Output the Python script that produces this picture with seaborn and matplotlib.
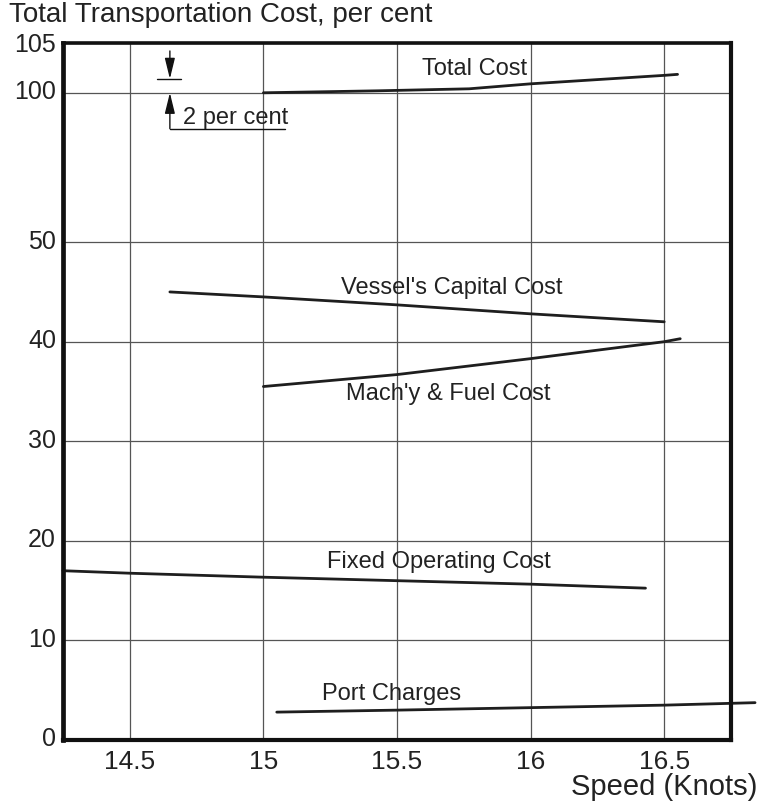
import numpy as np
import pandas as pd
import matplotlib
matplotlib.use('Agg')
import matplotlib.pyplot as plt
from matplotlib.transforms import ScaledTranslation
import seaborn as sns

# speeds (knots) and cost shares (per cent)
total_x = [15.0, 15.43, 15.77, 16.0, 16.5, 16.55]
total_y = [100.0, 100.2, 100.4, 100.9, 101.75, 101.85]

capital_x = [14.65, 15.0, 15.5, 16.0, 16.5]
capital_y = [45.0, 44.5, 43.7, 42.8, 42.0]

fuel_x = [15.0, 15.5, 16.0, 16.5, 16.56]
fuel_y = [35.5, 36.7, 38.3, 40.0, 40.3]

fixed_x = [14.25, 14.5, 15.0, 15.5, 16.0, 16.43]
fixed_y = [17.0, 16.75, 16.35, 16.0, 15.65, 15.25]

port_x = [15.05, 15.5, 16.0, 16.5, 16.84]
port_y = [2.8, 3.0, 3.25, 3.5, 3.75]

x_ticks = [14.5, 15, 15.5, 16, 16.5]
x_tick_labels = ['14.5', '15', '15.5', '16', '16.5']
y_ticks = [0, 10, 20, 30, 40, 50, 100, 105]


# broken axis: 50..100 squeezed to 30 % height
def fwd(y):
    y = np.asarray(y, dtype=float)
    return np.where(y <= 50, y, np.where(y >= 100, y - 35, 50 + (y - 50) * 0.3))


def inv(t):
    t = np.asarray(t, dtype=float)
    return np.where(t <= 50, t, np.where(t >= 65, t + 35, 50 + (t - 50) / 0.3))


sns.set_style('white')
plt.rcParams['font.family'] = ['Liberation Sans', 'DejaVu Sans']

fig = plt.figure(figsize=(7.6, 8.02), dpi=100)
ax = fig.add_axes([63 / 760, 62 / 802, 668 / 760, 697 / 802])
ax.set_yscale('function', functions=(fwd, inv))

line_color = '#1e1e1e'
text_color = '#222222'
series = [
    (total_x, total_y),
    (capital_x, capital_y),
    (fuel_x, fuel_y),
    (fixed_x, fixed_y),
    (port_x, port_y),
]
for xs, ys in series:
    df = pd.DataFrame({'speed': xs, 'cost': ys})
    sns.lineplot(data=df, x='speed', y='cost', ax=ax, color=line_color,
                 linewidth=2.0, clip_on=False)

ax.set_xlim(14.25, 16.75)
ax.set_ylim(0, 105)
ax.set_xticks(x_ticks)
ax.set_xticklabels(x_tick_labels)
ax.set_yticks(y_ticks)
ax.set_yticklabels([str(v) for v in y_ticks])
ax.tick_params(axis='both', length=0, colors=text_color)
ax.tick_params(axis='x', labelsize=19, pad=7)
ax.tick_params(axis='y', labelsize=18, pad=5)
ax.set_xlabel('')
ax.set_ylabel('')

# y labels sit a little above their lines in the original (not the top one,
# which would run into the title)
lift = ScaledTranslation(0, 3 / 100, fig.dpi_scale_trans)
for lab in ax.get_yticklabels()[:-1]:
    lab.set_transform(lab.get_transform() + lift)

ax.grid(True, color='#555555', linewidth=0.9)
for side, lw in [('left', 3.4), ('bottom', 3.0), ('right', 3.0), ('top', 2.6)]:
    ax.spines[side].set_visible(True)
    ax.spines[side].set_color('#111111')
    ax.spines[side].set_linewidth(lw)

# curve labels
labels = [
    ('Total Cost', 15.79, 102.35),
    ("Vessel's Capital Cost", 15.705, 45.35),
    ("Mach'y & Fuel Cost", 15.69, 34.75),
    ('Fixed Operating Cost', 15.655, 17.85),
    ('Port Charges', 15.48, 4.65),
]
for txt, lx, ly in labels:
    ax.text(lx, ly, txt, ha='center', va='center', fontsize=17, color=text_color)

# "2 per cent" marker
mark_x = 14.65
arrow = dict(arrowstyle='-|>,head_length=0.9,head_width=0.22', color='#111111',
             lw=1.0, mutation_scale=14, shrinkA=0, shrinkB=0)
ax.annotate('', xy=(mark_x, 101.4), xytext=(mark_x, 104.2), arrowprops=arrow)
ax.annotate('', xy=(mark_x, 100.0), xytext=(mark_x, 88.0), arrowprops=arrow)
ax.plot([14.60, 14.69], [101.4, 101.4], color='#111111', lw=1.0)
ax.plot([mark_x, 15.08], [88.0, 88.0], color='#111111', lw=1.0)
ax.text(14.70, 91.7, '2 per cent', ha='left', va='center', fontsize=17, color=text_color)

fig.text(9 / 760, 1 - 22 / 802, 'Total Transportation Cost, per cent',
         ha='left', va='baseline', fontsize=20, color=text_color)
fig.text(757 / 760, 1 - 787 / 802, 'Speed (Knots)',
         ha='right', va='center', fontsize=21, color=text_color)

fig.savefig('out.png', dpi=100)
